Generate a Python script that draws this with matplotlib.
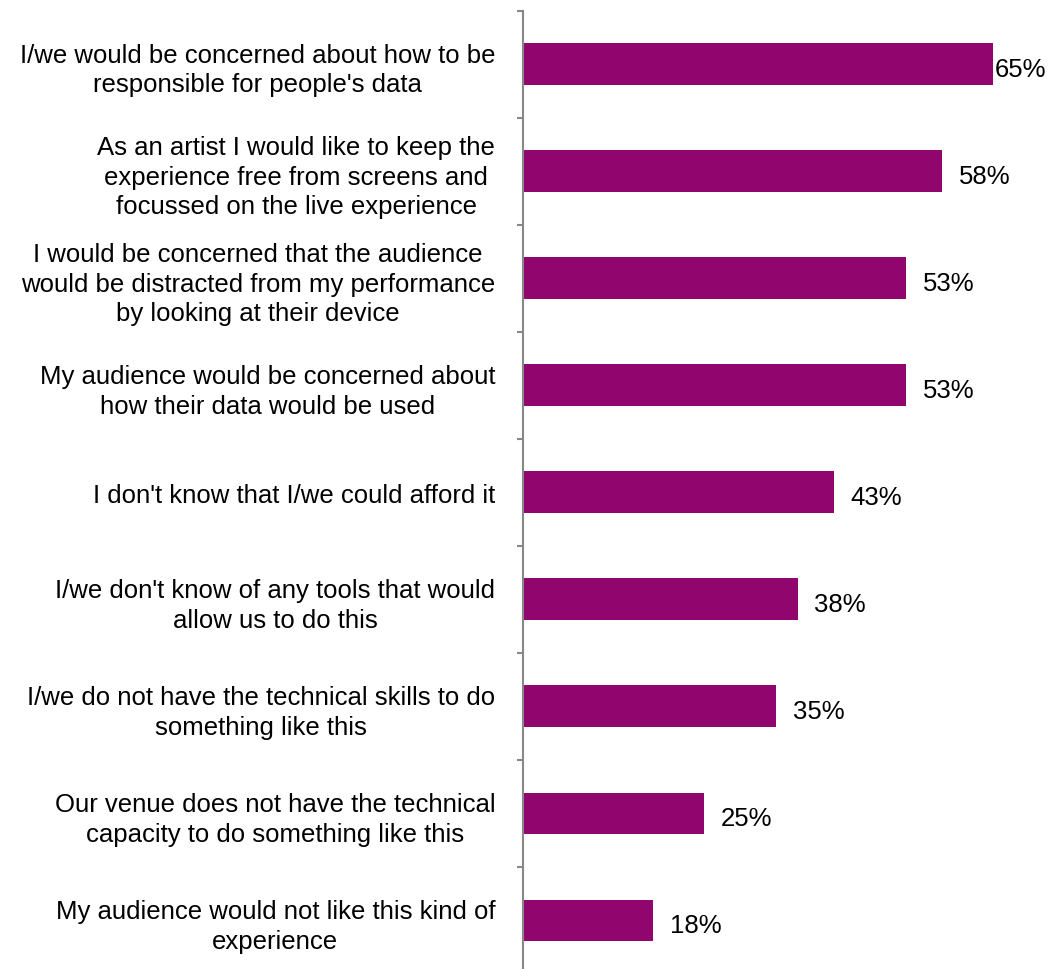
import matplotlib
matplotlib.use("Agg")
import matplotlib.pyplot as plt
from matplotlib.ticker import FixedLocator

categories = [
    "I/we would be concerned about how to be\nresponsible for people's data",
    "As an artist I would like to keep the\nexperience free from screens and\nfocussed on the live experience",
    "I would be concerned that the audience\nwould be distracted from my performance\nby looking at their device",
    "My audience would be concerned about\nhow their data would be used",
    "I don't know that I/we could afford it",
    "I/we don't know of any tools that would\nallow us to do this",
    "I/we do not have the technical skills to do\nsomething like this",
    "Our venue does not have the technical\ncapacity to do something like this",
    "My audience would not like this kind of\nexperience",
]
values = [65, 58, 53, 53, 43, 38, 35, 25, 18]
value_labels = ["65%", "58%", "53%", "53%", "43%", "38%", "35%", "25%", "18%"]

plt.rcParams['font.family'] = ['Liberation Sans', 'DejaVu Sans']

W, H, DPI = 1054, 970, 100
FS = 18.5
fig = plt.figure(figsize=(W / DPI, H / DPI), dpi=DPI)

left_px, top_px, bottom_px = 523, 11.5, 975
px_per_unit = 7.225
xmax = 73
ax = fig.add_axes([left_px / W, 1 - bottom_px / H,
                   xmax * px_per_unit / W, (bottom_px - top_px) / H])

n = len(categories)
ypos = list(range(n))
bar_color = '#91056E'
ax.barh(ypos, values, height=0.39, color=bar_color)
ax.set_xlim(0, xmax)
ax.set_ylim(n - 0.5, -0.5)

for s in ['top', 'right', 'bottom']:
    ax.spines[s].set_visible(False)
ax.spines['left'].set_color('#888888')
ax.spines['left'].set_linewidth(1.5)
ax.set_xticks([])

ax.yaxis.set_major_locator(FixedLocator(ypos))
ax.set_yticklabels(categories, fontsize=FS, color='black')
for lbl in ax.get_yticklabels():
    lbl.set_multialignment('center')
    lbl.set_linespacing(1.31)
ax.tick_params(axis='y', which='major', length=0, pad=20)
ax.yaxis.set_minor_locator(FixedLocator([i - 0.5 for i in range(n + 1)]))
ax.tick_params(axis='y', which='minor', length=4.3, width=1.5, color='#888888')

fig.canvas.draw()
renderer = fig.canvas.get_renderer()
for y, v, t in zip(ypos, values, value_labels):
    txt = ax.annotate(t, xy=(v, y), xytext=(12.2, -8.5), textcoords='offset points',
                      ha='left', va='baseline', fontsize=FS, color='black')
    bb = txt.get_window_extent(renderer)
    limit = W - 8
    if bb.x1 > limit:
        shift_pt = (bb.x1 - limit) * 72 / DPI
        txt.xyann = (max(12.2 - shift_pt, 0.7), -8.5)

fig.savefig('out.png', dpi=DPI, facecolor='white')
